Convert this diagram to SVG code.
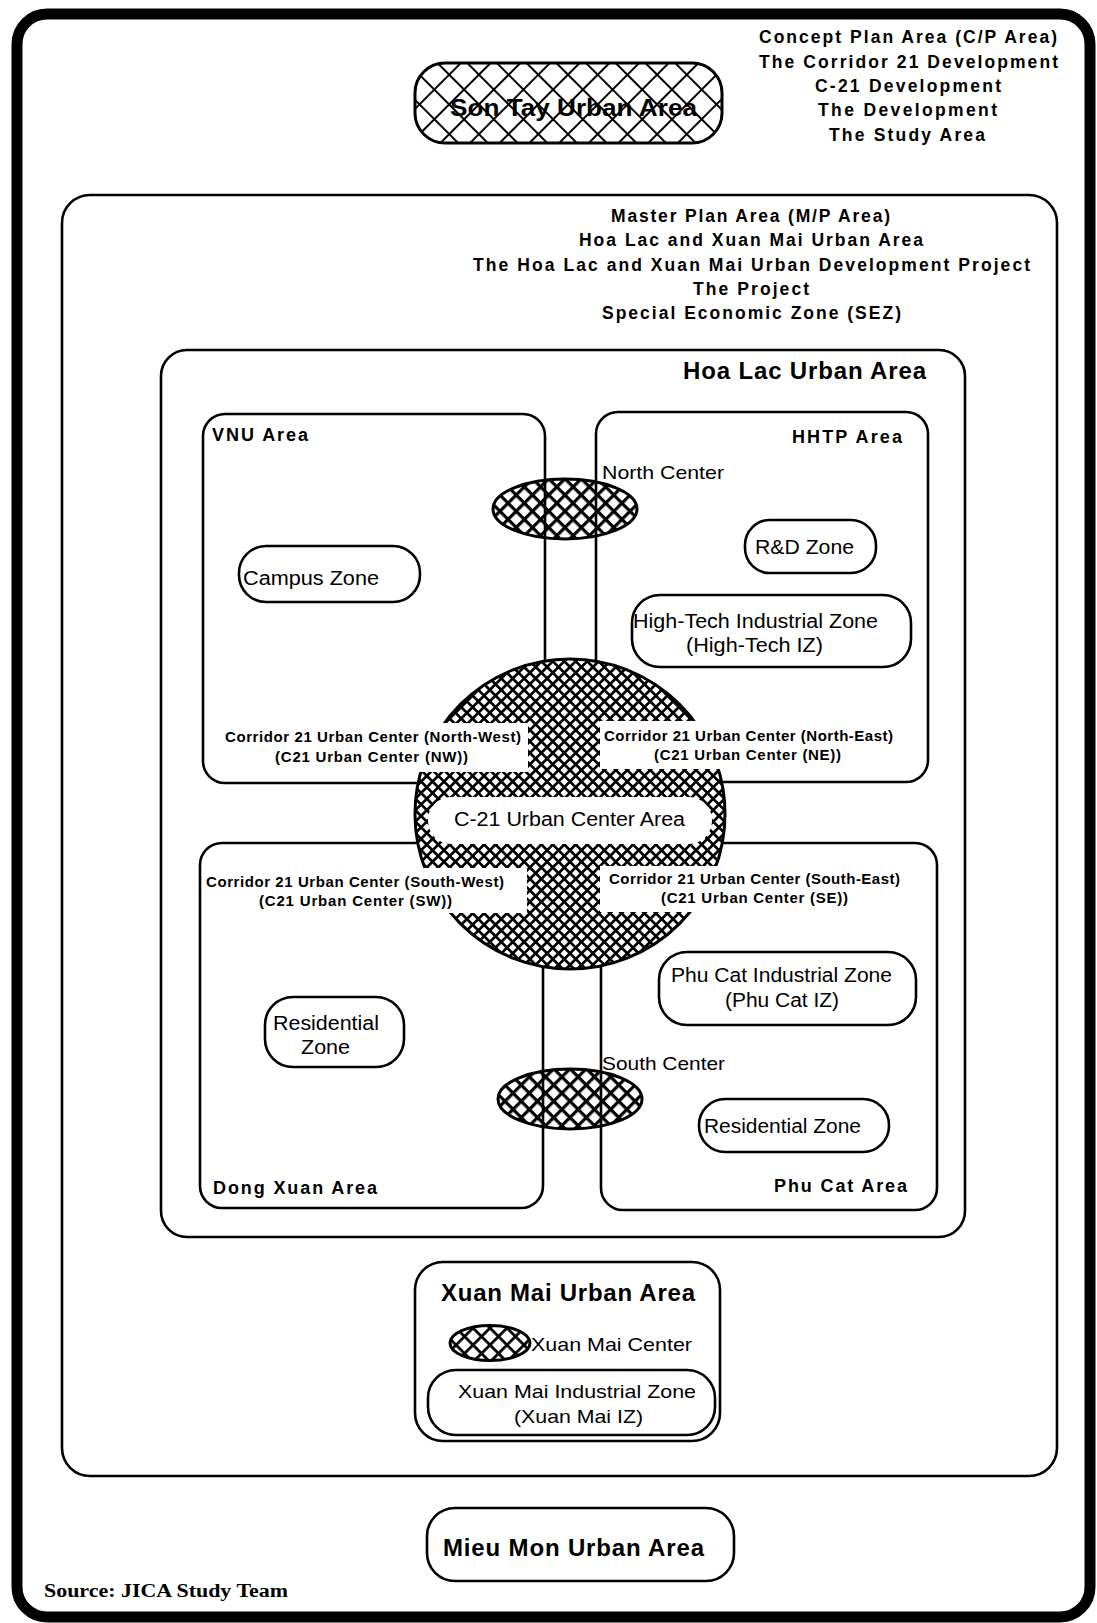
<svg xmlns="http://www.w3.org/2000/svg" width="1097" height="1623" viewBox="0 0 1097 1623">
<style>
.b{fill:none;stroke:#000;stroke-width:2.6}
.t{font-family:"Liberation Sans",Arial,Helvetica,sans-serif;fill:#000}
.r{font-size:20px}
.s{font-size:19px}
.h{font-weight:bold}
.lab{font-size:18px;font-weight:bold}
.ttl{font-size:24px;font-weight:bold}
.list{font-size:17.5px;font-weight:bold}
.cor{font-size:15px;font-weight:bold}
</style>
<defs>
<pattern id="hBig" patternUnits="userSpaceOnUse" width="8.1" height="8.1" patternTransform="translate(570 814) rotate(45)">
<rect width="8.1" height="2.7" fill="#000"/><rect width="2.7" height="8.1" fill="#000"/>
</pattern>
<pattern id="hMid" patternUnits="userSpaceOnUse" width="11.5" height="11.5" patternTransform="translate(565 509) rotate(45)">
<rect width="11.5" height="3.2" fill="#000"/><rect width="3.2" height="11.5" fill="#000"/>
</pattern>
<pattern id="hMid2" patternUnits="userSpaceOnUse" width="11.5" height="11.5" patternTransform="translate(570 1099) rotate(45)">
<rect width="11.5" height="3.2" fill="#000"/><rect width="3.2" height="11.5" fill="#000"/>
</pattern>
<pattern id="hXM" patternUnits="userSpaceOnUse" width="12" height="12" patternTransform="translate(490 1343) rotate(45)">
<rect width="12" height="2.8" fill="#000"/><rect width="2.8" height="12" fill="#000"/>
</pattern>
<pattern id="hST" patternUnits="userSpaceOnUse" width="21" height="21" patternTransform="translate(568 103) rotate(45)">
<rect width="21" height="2" fill="#000"/><rect width="2" height="21" fill="#000"/>
</pattern>
</defs>

<g id="concept-plan-area">
<rect x="17" y="14" width="1073" height="1603" rx="30" fill="#fff" stroke="#000" stroke-width="11"/>
<g class="t list">
<text x="759" y="43" textLength="298" lengthAdjust="spacing">Concept Plan Area (C/P Area)</text>
<text x="759" y="68" textLength="299" lengthAdjust="spacing">The Corridor 21 Development</text>
<text x="815" y="92" textLength="186" lengthAdjust="spacing">C-21 Development</text>
<text x="818" y="116" textLength="179" lengthAdjust="spacing">The Development</text>
<text x="829" y="141" textLength="156" lengthAdjust="spacing">The Study Area</text>
</g>
</g>

<g id="son-tay">
<rect x="415" y="63" width="307" height="80" rx="30" fill="#fff"/>
<rect x="415" y="63" width="307" height="80" rx="30" fill="url(#hST)" stroke="#000" stroke-width="3"/>
<text class="t h" x="450" y="116" font-size="23" textLength="247" lengthAdjust="spacingAndGlyphs">Son Tay Urban Area</text>
</g>

<g id="master-plan-area">
<rect x="62" y="195" width="995" height="1281" rx="28" class="b" stroke-width="6"/>
<g class="t list">
<text x="611" y="222" textLength="279" lengthAdjust="spacing">Master Plan Area (M/P Area)</text>
<text x="579" y="246" textLength="344" lengthAdjust="spacing">Hoa Lac and Xuan Mai Urban Area</text>
<text x="473" y="271" textLength="557" lengthAdjust="spacing">The Hoa Lac and Xuan Mai Urban Development Project</text>
<text x="693" y="295" textLength="116" lengthAdjust="spacing">The Project</text>
<text x="602" y="319" textLength="299" lengthAdjust="spacing">Special Economic Zone (SEZ)</text>
</g>
</g>

<g id="hoa-lac-urban-area">
<rect x="161" y="350" width="804" height="887" rx="26" class="b" stroke-width="3"/>
<text class="t ttl" x="683" y="379" textLength="243" lengthAdjust="spacing">Hoa Lac Urban Area</text>
</g>

<g id="north-center">
<ellipse cx="565" cy="509" rx="72" ry="30" fill="#fff"/>
<ellipse cx="565" cy="509" rx="72" ry="30" fill="url(#hMid)" stroke="#000" stroke-width="3"/>
<text class="t s" x="602" y="479" textLength="122" lengthAdjust="spacingAndGlyphs">North Center</text>
</g>

<g id="south-center">
<ellipse cx="570" cy="1099" rx="72" ry="30" fill="#fff"/>
<ellipse cx="570" cy="1099" rx="72" ry="30" fill="url(#hMid2)" stroke="#000" stroke-width="3"/>
<text class="t s" x="602" y="1070" textLength="123" lengthAdjust="spacingAndGlyphs">South Center</text>
</g>

<g id="vnu-area">
<rect x="203" y="414" width="342" height="369" rx="22" class="b"/>
<text class="t lab" x="212" y="441" textLength="96" lengthAdjust="spacing">VNU Area</text>
</g>
<g id="campus-zone">
<rect x="239" y="546" width="181" height="56" rx="27" class="b"/>
<text class="t r" x="243" y="585" textLength="136" lengthAdjust="spacingAndGlyphs">Campus Zone</text>
</g>

<g id="hhtp-area">
<rect x="596" y="412" width="332" height="370" rx="22" class="b"/>
<text class="t lab" x="792" y="443" textLength="110" lengthAdjust="spacing">HHTP Area</text>
</g>
<g id="rd-zone">
<rect x="745" y="520" width="131" height="53" rx="25" class="b"/>
<text class="t r" x="755" y="554" textLength="99" lengthAdjust="spacingAndGlyphs">R&amp;D Zone</text>
</g>
<g id="high-tech-iz">
<rect x="632" y="595" width="279" height="72" rx="28" class="b"/>
<text class="t r" x="633" y="628" textLength="245" lengthAdjust="spacingAndGlyphs">High-Tech Industrial Zone</text>
<text class="t r" x="686" y="652" textLength="137" lengthAdjust="spacingAndGlyphs">(High-Tech IZ)</text>
</g>

<g id="dong-xuan-area">
<rect x="200" y="843" width="343" height="365" rx="22" class="b"/>
<text class="t lab" x="213" y="1194" textLength="164" lengthAdjust="spacing">Dong Xuan Area</text>
</g>
<g id="residential-zone-west">
<rect x="265" y="997" width="139" height="70" rx="28" class="b"/>
<text class="t r" x="273" y="1030" textLength="106" lengthAdjust="spacingAndGlyphs">Residential</text>
<text class="t r" x="301" y="1054" textLength="49" lengthAdjust="spacingAndGlyphs">Zone</text>
</g>

<g id="phu-cat-area">
<rect x="601" y="843" width="336" height="367" rx="22" class="b"/>
<text class="t lab" x="774" y="1192" textLength="133" lengthAdjust="spacing">Phu Cat Area</text>
</g>
<g id="phu-cat-iz">
<rect x="659" y="952" width="257" height="73" rx="28" class="b"/>
<text class="t r" x="671" y="982" textLength="221" lengthAdjust="spacingAndGlyphs">Phu Cat Industrial Zone</text>
<text class="t r" x="725" y="1007" textLength="114" lengthAdjust="spacingAndGlyphs">(Phu Cat IZ)</text>
</g>
<g id="residential-zone-east">
<rect x="699" y="1099" width="190" height="53" rx="26" class="b"/>
<text class="t r" x="704" y="1133" textLength="157" lengthAdjust="spacingAndGlyphs">Residential Zone</text>
</g>

<g id="c21-urban-center-area">
<circle cx="570" cy="814" r="155" fill="#fff"/>
<circle cx="570" cy="814" r="155" fill="url(#hBig)" stroke="#000" stroke-width="3"/>
<g fill="#fff">
<rect x="405" y="723" width="123" height="49"/>
<rect x="600" y="721" width="140" height="48"/>
<rect x="405" y="868" width="122" height="45"/>
<rect x="600" y="866" width="140" height="46"/>
<rect x="428" y="797" width="284" height="47" rx="23"/>
</g>
<text class="t r" x="454" y="826" textLength="231" lengthAdjust="spacingAndGlyphs">C-21 Urban Center Area</text>
<g class="t cor">
<text x="225" y="742" textLength="296" lengthAdjust="spacing">Corridor 21 Urban Center (North-West)</text>
<text x="275" y="762" textLength="193" lengthAdjust="spacing">(C21 Urban Center (NW))</text>
<text x="604" y="741" textLength="289" lengthAdjust="spacing">Corridor 21 Urban Center (North-East)</text>
<text x="654" y="760" textLength="187" lengthAdjust="spacing">(C21 Urban Center (NE))</text>
<text x="206" y="887" textLength="298" lengthAdjust="spacing">Corridor 21 Urban Center (South-West)</text>
<text x="259" y="906" textLength="193" lengthAdjust="spacing">(C21 Urban Center (SW))</text>
<text x="609" y="884" textLength="291" lengthAdjust="spacing">Corridor 21 Urban Center (South-East)</text>
<text x="661" y="903" textLength="187" lengthAdjust="spacing">(C21 Urban Center (SE))</text>
</g>
</g>

<g id="xuan-mai-urban-area">
<rect x="415" y="1262" width="305" height="179" rx="28" class="b" stroke-width="3"/>
<text class="t ttl" x="441" y="1301" textLength="254" lengthAdjust="spacing">Xuan Mai Urban Area</text>
</g>
<g id="xuan-mai-center">
<ellipse cx="490" cy="1343" rx="40" ry="17.5" fill="url(#hXM)" stroke="#000" stroke-width="3"/>
<text class="t s" x="531" y="1351" textLength="161" lengthAdjust="spacingAndGlyphs">Xuan Mai Center</text>
</g>
<g id="xuan-mai-iz">
<rect x="428" y="1370" width="287" height="65" rx="28" class="b"/>
<text class="t s" x="458" y="1398" textLength="238" lengthAdjust="spacingAndGlyphs">Xuan Mai Industrial Zone</text>
<text class="t s" x="514" y="1423" textLength="129" lengthAdjust="spacingAndGlyphs">(Xuan Mai IZ)</text>
</g>

<g id="mieu-mon-urban-area">
<rect x="427" y="1508" width="307" height="73" rx="28" class="b" stroke-width="3"/>
<text class="t ttl" x="443" y="1556" textLength="261" lengthAdjust="spacing">Mieu Mon Urban Area</text>
</g>

<g id="source">
<text x="44" y="1597" font-family="'Liberation Serif','Times New Roman',serif" font-weight="bold" font-size="18" textLength="244" lengthAdjust="spacingAndGlyphs">Source: JICA Study Team</text>
</g>
</svg>
